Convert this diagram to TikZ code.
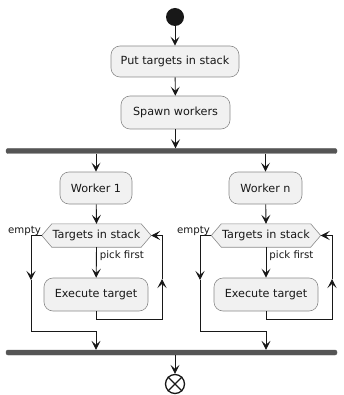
\documentclass[tikz,border=0pt]{standalone}
\usepackage{fontspec}
\setmainfont{DejaVu Sans}
\usetikzlibrary{arrows.meta}
\definecolor{boxfill}{HTML}{F1F1F1}
\definecolor{boxline}{HTML}{8A8A8A}
\definecolor{ink}{HTML}{181818}
\definecolor{barfill}{HTML}{555555}
\begin{document}
\begin{tikzpicture}[x=1pt,y=-1pt,
  actbox/.style={draw=boxline,fill=boxfill,line width=0.6pt,rounded corners=9pt,
    inner sep=0pt,font=\fontsize{11.2}{13}\selectfont,text=ink},
  hexlabel/.style={inner sep=0pt,font=\fontsize{11.2}{13}\selectfont,text=ink,
    minimum width=109pt,minimum height=23pt},
  hexdraw/.style={draw=boxline,fill=boxfill,line width=0.6pt},
  bar/.style={fill=barfill,draw=barfill,rounded corners=2pt,minimum width=331pt,
    minimum height=5pt,inner sep=0pt},
  arr/.style={draw=ink,line width=0.9pt,-{Stealth[length=9pt,width=9pt,inset=4pt]}},
  ln/.style={draw=ink,line width=0.9pt},
  lbl/.style={font=\fontsize{10.2}{12}\selectfont,text=ink,inner sep=0pt}]
\useasboundingbox (0,0) rectangle (343,395);

\node[circle,fill=ink,minimum size=18pt,inner sep=0pt] (start) at (175,17) {};
\node[actbox,minimum width=128pt,minimum height=31pt] (b1) at (175,61.5) {Put targets in stack};
\node[actbox,minimum width=109pt,minimum height=33pt] (b2) at (175.5,112.5) {Spawn workers};
\node[bar] (fork) at (171.5,151) {};

\node[actbox,minimum width=72pt,minimum height=32pt] (w1) at (96,188) {Worker 1};
\node[actbox,minimum width=73pt,minimum height=32pt] (wn) at (265.5,188) {Worker n};

% hexagons
\node[hexlabel] (h1) at (96.5,235.5) {};
\draw[hexdraw] ([xshift=10pt]h1.north west) -- ([xshift=-10pt]h1.north east) -- (h1.east)
  -- ([xshift=-10pt]h1.south east) -- ([xshift=10pt]h1.south west) -- (h1.west) -- cycle;
\node[hexlabel] (h1t) at (h1) {Targets in stack};
\node[hexlabel] (hn) at (266,235.5) {};
\draw[hexdraw] ([xshift=10pt]hn.north west) -- ([xshift=-10pt]hn.north east) -- (hn.east)
  -- ([xshift=-10pt]hn.south east) -- ([xshift=10pt]hn.south west) -- (hn.west) -- cycle;
\node[hexlabel] (hnt) at (hn) {Targets in stack};

\node[actbox,minimum width=104pt,minimum height=33pt] (e1) at (96,294.5) {Execute target};
\node[actbox,minimum width=104pt,minimum height=33pt] (en) at (266,294.5) {Execute target};

\node[bar] (join) at (171.5,352.5) {};
\node[circle,draw=ink,line width=1.3pt,minimum size=19pt,inner sep=0pt] (end) at (175,384) {};
\draw[ink,line width=1.3pt] (end.north east) -- (end.south west) (end.north west) -- (end.south east);

% main flow
\draw[arr] (start) -- (b1);
\draw[arr] (b1) -- (b2);
\draw[arr] (b2) -- (fork.north -| b2);
\draw[arr] (fork.south -| w1) -- (w1);
\draw[arr] (fork.south -| wn) -- (wn);
\draw[arr] (w1) -- (h1.north);
\draw[arr] (wn) -- (hn.north);
\draw[arr] (h1.south) -- (e1) node[lbl,pos=0.28,anchor=west,xshift=3pt] {pick first};
\draw[arr] (hn.south) -- (en) node[lbl,pos=0.28,anchor=west,xshift=3pt] {pick first};

% empty branches
\node[lbl,anchor=base east] (em1) at (41,233) {empty};
\node[lbl,anchor=base east] (emn) at (210,233) {empty};
\coordinate (l1) at (31,280);
\coordinate (l1b) at (96,331);
\draw[arr] (h1.west) -| (l1);
\draw[arr] (l1) |- (l1b) -- (l1b |- join.north);
\coordinate (ln) at (200,280);
\coordinate (lnb) at (266,331);
\draw[arr] (hn.west) -| (ln);
\draw[arr] (ln) |- (lnb) -- (lnb |- join.north);

% loops
\coordinate (r1) at (162,279);
\coordinate (r1b) at (96,319);
\draw[arr] (e1.south) -- (r1b) -| (r1);
\draw[arr] (r1) |- (h1.east);
\coordinate (rn) at (332,279);
\coordinate (rnb) at (266,319);
\draw[arr] (en.south) -- (rnb) -| (rn);
\draw[arr] (rn) |- (hn.east);

\draw[arr] (join.south -| end) -- (end);
\end{tikzpicture}
\end{document}
